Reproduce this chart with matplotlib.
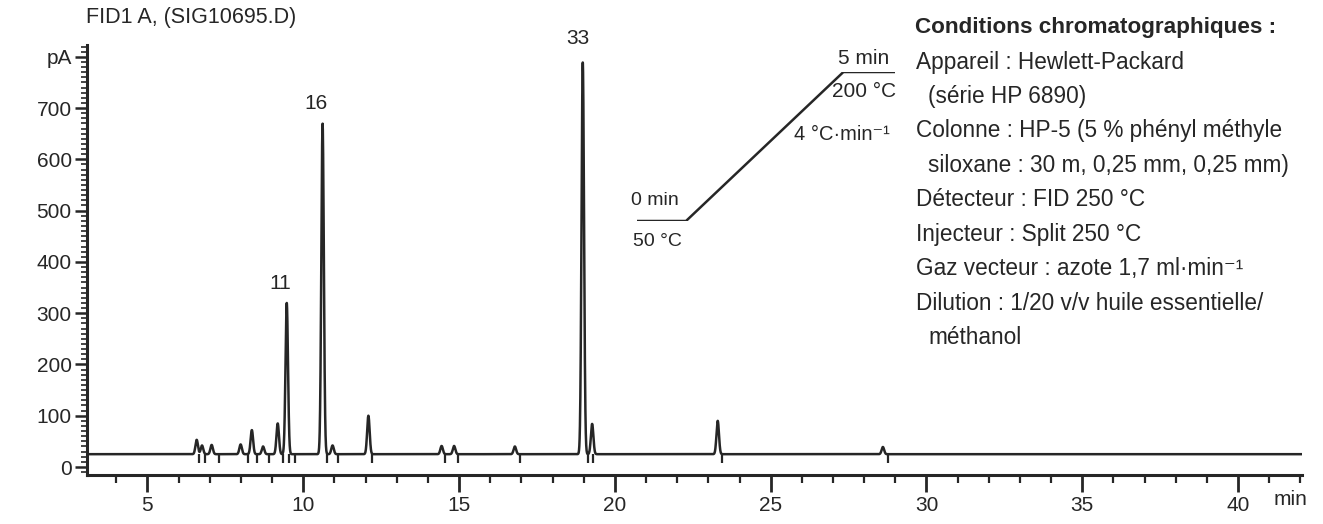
import numpy as np
import matplotlib
matplotlib.use("Agg")
import matplotlib.pyplot as plt
from matplotlib.ticker import MultipleLocator

plt.rcParams['font.family'] = ['Liberation Sans', 'DejaVu Sans']

# peaks (retention time in min, apex in pA)
peak_rt = [6.58, 6.75, 7.06, 7.99, 8.35, 8.71, 9.18, 9.47, 10.62, 10.94,
           12.09, 14.44, 14.84, 16.79, 18.97, 19.27, 23.30, 28.60]
peak_top = [53, 42, 43, 44, 72, 40, 85, 320, 670, 42,
            100, 41, 41, 40, 789, 84, 90, 39]
baseline = 25
# integration markers under the baseline
marker_rt = [6.66, 6.84, 7.30, 8.22, 8.53, 8.91, 9.36, 9.55, 9.73, 10.75,
             11.11, 12.20, 14.55, 14.98, 16.94, 19.13, 19.31, 23.43, 28.75]
labelled = {"11": (9.26, 358), "16": (10.40, 708), "33": (18.80, 836)}

# oven program (schematic)
prog_temp = [50, 50, 200, 200]
prog_step = [0.0, 0.19, 0.80, 1.0]

conditions = [
    ("Appareil : Hewlett-Packard", 0),
    ("(série HP 6890)", 1),
    ("Colonne : HP-5 (5 % phényl méthyle", 0),
    ("siloxane : 30 m, 0,25 mm, 0,25 mm)", 1),
    ("Détecteur : FID 250 °C", 0),
    ("Injecteur : Split 250 °C", 0),
    ("Gaz vecteur : azote 1,7 ml·min⁻¹", 0),
    ("Dilution : 1/20 v/v huile essentielle/", 0),
    ("méthanol", 1),
]

ink = "#262626"
W, H = 1323, 524
fig = plt.figure(figsize=(W / 100, H / 100), dpi=100)
fig.patch.set_facecolor("white")
ax = fig.add_axes([87 / W, 49 / H, (1302 - 87) / W, (475 - 45) / H])

xmin, xmax = 3.06, 42.05
t = np.linspace(xmin, xmax, 12000)
sig = 0.04
y = np.full_like(t, baseline, dtype=float)
for rt, top in zip(peak_rt, peak_top):
    y += (top - baseline) * np.exp(-0.5 * ((t - rt) / sig) ** 2)
ax.plot(t, y, color=ink, lw=1.8)
ax.vlines(marker_rt, baseline - 18, baseline, color=ink, lw=1.6)

for lab, (lx, ly) in labelled.items():
    ax.text(lx, ly, lab, ha="center", va="center", fontsize=15, color=ink, clip_on=False)

ax.set_xlim(xmin, xmax)
ax.set_ylim(-15.6, 823)
ax.spines[["top", "right"]].set_visible(False)
for s in ("left", "bottom"):
    ax.spines[s].set_linewidth(2.2)
    ax.spines[s].set_color(ink)

ax.set_xticks(range(5, 41, 5))
ax.xaxis.set_minor_locator(MultipleLocator(1))
ax.set_yticks(range(0, 801, 100))
ax.set_yticklabels([str(v) for v in range(0, 701, 100)] + ["pA"])
ax.yaxis.set_minor_locator(MultipleLocator(10))
ax.tick_params(axis="x", which="major", length=12, width=2, colors=ink, labelsize=15, pad=3)
ax.tick_params(axis="x", which="minor", length=6, width=1.6, colors=ink)
ax.tick_params(axis="y", which="major", length=9, width=1.8, colors=ink, labelsize=15, pad=2)
ax.tick_params(axis="y", which="minor", length=4, width=1.2, colors=ink)
ax.text(41.67, -0.058, "min", transform=ax.get_xaxis_transform(), ha="center", va="center",
        fontsize=15, color=ink, clip_on=False)

fig.text(86 / W, 1 - 18 / H, "FID1 A, (SIG10695.D)", ha="left", va="center", fontsize=15.5, color=ink)

# oven temperature program
axt = fig.add_axes([637 / W, 1 - 221 / H, (895 - 637) / W, (221 - 72) / H])
axt.plot(prog_step, prog_temp, color=ink, lw=1.8, solid_capstyle="butt")
axt.set_xlim(0, 1)
axt.set_ylim(50, 200)
axt.axis("off")
axt.text(0.07, 62, "0 min", ha="center", va="bottom", fontsize=14, color=ink)
axt.text(0.08, 38, "50 °C", ha="center", va="top", fontsize=14, color=ink)
axt.text(0.88, 204, "5 min", ha="center", va="bottom", fontsize=15, color=ink)
axt.text(0.88, 190, "200 °C", ha="center", va="top", fontsize=15, color=ink)
axt.text(0.98, 137, "4 °C·min⁻¹", ha="right", va="center", fontsize=14.5, color=ink)

fig.text(915 / W, 1 - 28 / H, "Conditions chromatographiques :", ha="left", va="center",
         fontsize=16.2, fontweight="bold", color=ink)
for i, (line, indent) in enumerate(conditions):
    fig.text((916 + 12 * indent) / W, 1 - (62 + 34.5 * i) / H, line, ha="left", va="center",
             fontsize=16.3, color=ink)

fig.savefig("out.png", dpi=100)
